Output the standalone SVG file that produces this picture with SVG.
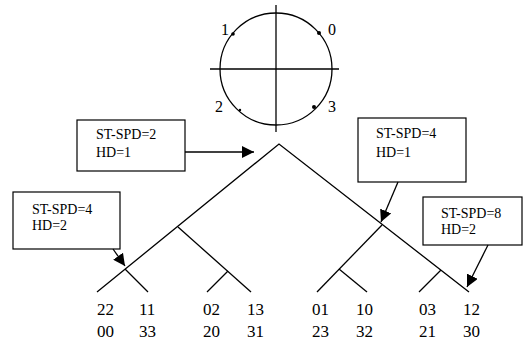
<svg xmlns="http://www.w3.org/2000/svg" width="524" height="341" viewBox="0 0 524 341">
<defs>
<style>
.ln{stroke:#000;stroke-width:1.3;fill:none}
.box{stroke:#000;stroke-width:1.2;fill:#fff}
text{font-family:'Liberation Serif','Times New Roman','DejaVu Serif',serif;fill:#000}
.bt{font-size:14px}
.lb{font-size:17px}
.cl{font-size:16px}
</style>
<marker id="ah" viewBox="0 0 10 10" refX="10" refY="5" markerWidth="12" markerHeight="12" markerUnits="userSpaceOnUse" orient="auto">
<path d="M0,0 L10,5 L0,10 z" fill="#000"/>
</marker>
</defs>
<rect width="524" height="341" fill="#fff"/>
<g id="circle">
<circle cx="276" cy="69" r="56" class="ln"/>
<line x1="210" y1="69" x2="339" y2="69" class="ln"/>
<line x1="276" y1="5" x2="276" y2="132" class="ln"/>
<circle cx="319" cy="33" r="2" fill="#000"/>
<circle cx="233" cy="34" r="1.8" fill="#000"/>
<circle cx="314" cy="107" r="2" fill="#000"/>
<circle cx="240" cy="110" r="1.2" fill="#000"/>
<text x="221" y="35" class="cl">1</text>
<text x="328" y="35" class="cl">0</text>
<text x="215" y="112" class="cl">2</text>
<text x="328" y="112" class="cl">3</text>
</g>
<g id="tree">
<polyline points="97,292 279,144 469,292" class="ln"/>
<line x1="178" y1="227" x2="251" y2="292" class="ln"/>
<line x1="125" y1="269" x2="148" y2="292" class="ln"/>
<line x1="228" y1="271" x2="207" y2="292" class="ln"/>
<line x1="382" y1="225" x2="317" y2="292" class="ln"/>
<line x1="339" y1="269" x2="367" y2="292" class="ln"/>
<line x1="441" y1="270" x2="419" y2="292" class="ln"/>
</g>
<g id="box1">
<rect x="77" y="120" width="108" height="51" class="box"/>
<text x="96" y="139" class="bt">ST-SPD=2</text>
<text x="96" y="157" class="bt">HD=1</text>
</g>
<g id="box2">
<rect x="13" y="192" width="107" height="57" class="box"/>
<text x="32" y="214" class="bt">ST-SPD=4</text>
<text x="32" y="230" class="bt">HD=2</text>
</g>
<g id="box3">
<rect x="358" y="118" width="108" height="64" class="box"/>
<text x="376" y="138" class="bt">ST-SPD=4</text>
<text x="376" y="157" class="bt">HD=1</text>
</g>
<g id="box4">
<rect x="423" y="197" width="99" height="48" class="box"/>
<text x="441" y="218" class="bt">ST-SPD=8</text>
<text x="441" y="234" class="bt">HD=2</text>
</g>
<g id="connectors">
<line x1="185" y1="152" x2="254" y2="152" class="ln" marker-end="url(#ah)"/>
<line x1="113" y1="249" x2="125" y2="266" class="ln" marker-end="url(#ah)"/>
<line x1="398" y1="182" x2="381" y2="222" class="ln" marker-end="url(#ah)"/>
<line x1="488" y1="245" x2="467" y2="287" class="ln" marker-end="url(#ah)"/>
</g>
<g id="labels">
<text x="97" y="315" class="lb">22</text>
<text x="97" y="337" class="lb">00</text>
<text x="139" y="315" class="lb">11</text>
<text x="139" y="337" class="lb">33</text>
<text x="203" y="315" class="lb">02</text>
<text x="203" y="337" class="lb">20</text>
<text x="247" y="315" class="lb">13</text>
<text x="247" y="337" class="lb">31</text>
<text x="312" y="315" class="lb">01</text>
<text x="312" y="337" class="lb">23</text>
<text x="356" y="315" class="lb">10</text>
<text x="356" y="337" class="lb">32</text>
<text x="419" y="315" class="lb">03</text>
<text x="419" y="337" class="lb">21</text>
<text x="463" y="315" class="lb">12</text>
<text x="463" y="337" class="lb">30</text>
</g>
</svg>
